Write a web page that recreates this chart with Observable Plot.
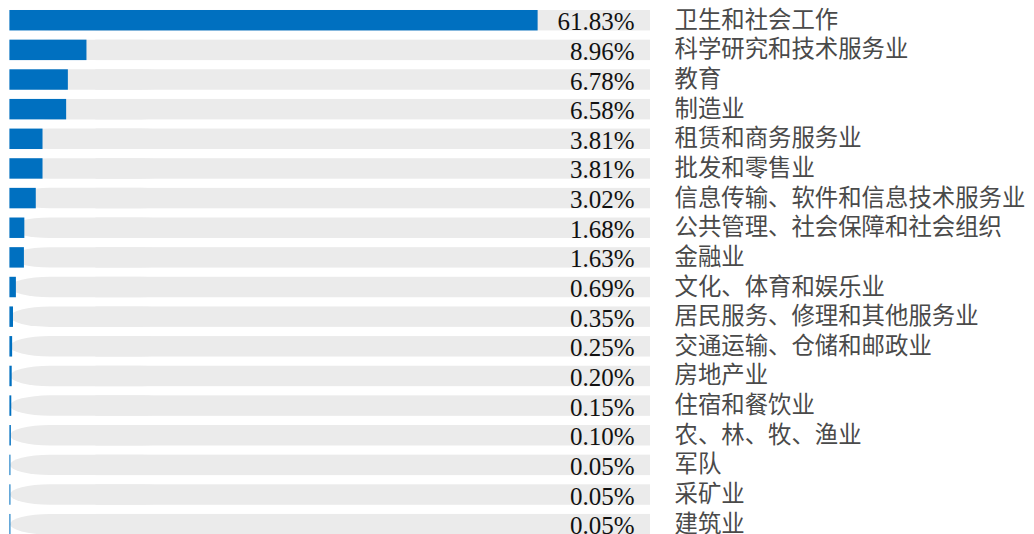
<!DOCTYPE html>
<html>
<head>
<meta charset="utf-8">
<script src="https://cdn.jsdelivr.net/npm/d3@7"></script>
<script src="https://cdn.jsdelivr.net/npm/@observablehq/plot@0.6"></script>
<style>
  html, body { margin: 0; padding: 0; background: #ffffff; }
  #chart { width: 1034px; height: 534px; overflow: hidden; }
</style>
</head>
<body>
<div id="chart"></div>
<script>
const categories = [
  "卫生和社会工作",
  "科学研究和技术服务业",
  "教育",
  "制造业",
  "租赁和商务服务业",
  "批发和零售业",
  "信息传输、软件和信息技术服务业",
  "公共管理、社会保障和社会组织",
  "金融业",
  "文化、体育和娱乐业",
  "居民服务、修理和其他服务业",
  "交通运输、仓储和邮政业",
  "房地产业",
  "住宿和餐饮业",
  "农、林、牧、渔业",
  "军队",
  "采矿业",
  "建筑业"
];
const values = [61.83, 8.96, 6.78, 6.58, 3.81, 3.81, 3.02, 1.68, 1.63, 0.69, 0.35, 0.25, 0.20, 0.15, 0.10, 0.05, 0.05, 0.05];
const valueLabels = ["61.83%", "8.96%", "6.78%", "6.58%", "3.81%", "3.81%", "3.02%", "1.68%", "1.63%", "0.69%", "0.35%", "0.25%", "0.20%", "0.15%", "0.10%", "0.05%", "0.05%", "0.05%"];
const xMax = 75;

const data = categories.map((c, i) => ({category: c, value: values[i], label: valueLabels[i]}));

const chart = Plot.plot({
  width: 1034,
  height: 534,
  margin: 0,
  style: {background: "#ffffff", overflow: "visible"},
  x: {domain: [0, xMax], range: [10, 650], axis: null},
  y: {domain: categories, range: [5.4, 539], paddingInner: 0.31, paddingOuter: 0.155, round: false, axis: null},
  marks: [
    Plot.barX(data, {y: "category", x1: 0, x2: 20, fill: "#ebebeb", rx: 40, ry: 10.5}),
    Plot.barX(data, {y: "category", x1: 10, x2: xMax, fill: "#ebebeb"}),
    Plot.barX(data, {y: "category", x1: 0, x2: "value", fill: "#0070c0", insetLeft: -0.6}),
    Plot.text(data, {
      y: "category", x: () => xMax, text: "label",
      textAnchor: "end", dx: -16, dy: 1.5,
      fontFamily: "'Liberation Serif', 'Times New Roman', serif",
      fontSize: 25, fill: "#111111"
    }),
    Plot.text(data, {
      y: "category", x: () => xMax, text: "category",
      textAnchor: "start", dx: 24, dy: -0.5,
      fontFamily: "'Noto Sans CJK SC', sans-serif",
      fontSize: 23.4, fill: "#4a4a4a"
    })
  ]
});
document.getElementById("chart").appendChild(chart);
</script>
</body>
</html>
